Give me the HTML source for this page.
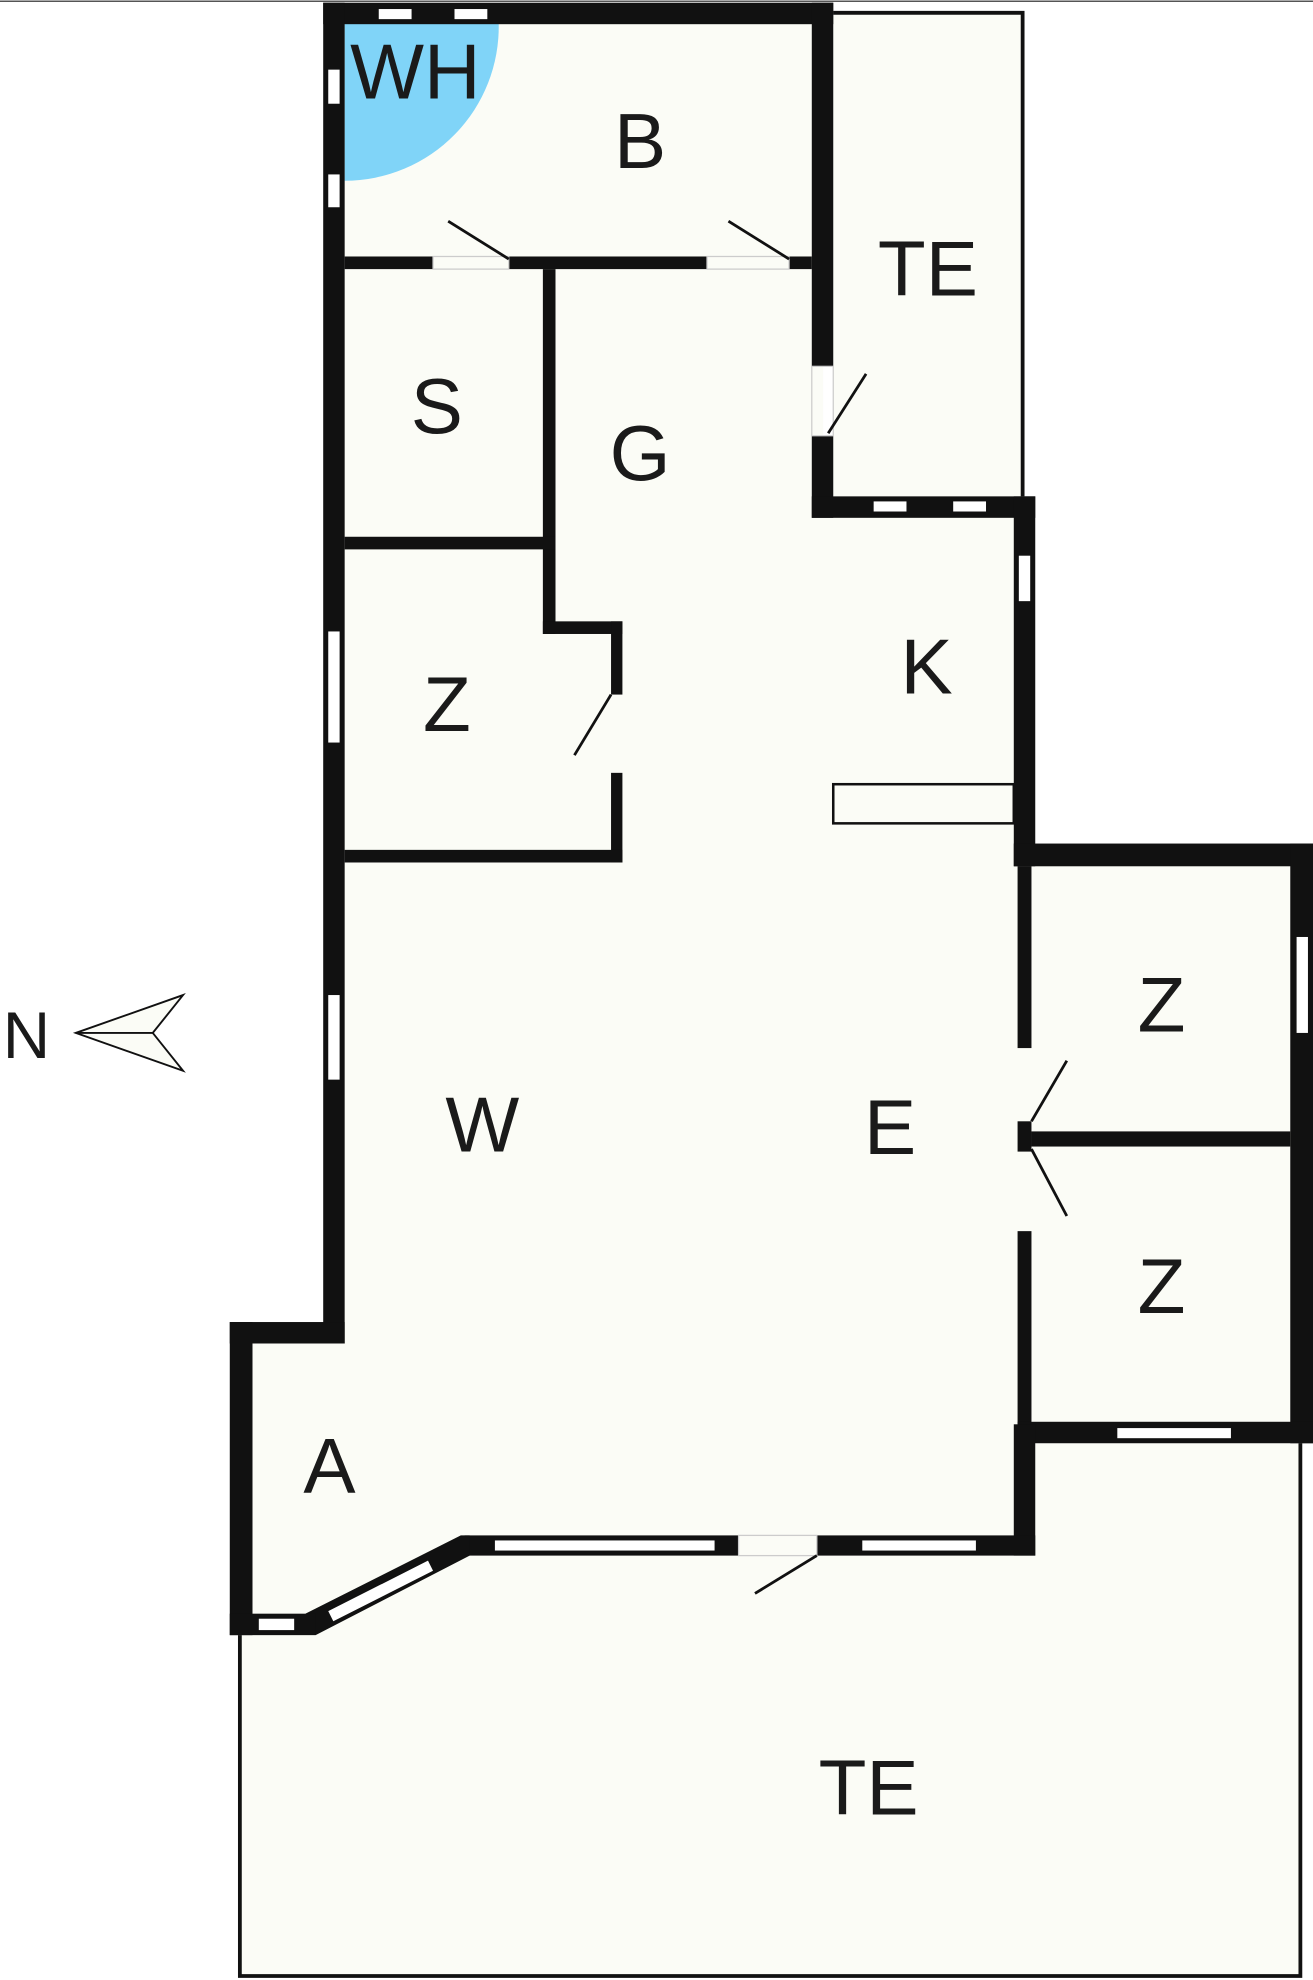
<!DOCTYPE html>
<html><head><meta charset="utf-8"><style>
html,body{margin:0;padding:0;background:#fff;}
svg{display:block;}
text{font-family:"Liberation Sans",sans-serif;font-size:62px;fill:#1a1a1a;text-anchor:middle;}
</style></head><body>
<svg width="1313" height="1980" viewBox="0 0 1040 1568" xmlns="http://www.w3.org/2000/svg">
<rect width="1040" height="1568" fill="#fff"/>
<line x1="0" y1="0.8" x2="1040" y2="0.8" stroke="#555" stroke-width="1.2"/>
<g fill="#fbfcf6">
<polygon points="265,10 652,10 652,402 812,402 812,677 1031,677 1031,1135 812,1135 812,1224 370,1224 248,1287 191,1287 191,1055 265,1055"/>
<rect x="660" y="10" width="150" height="383"/>
<rect x="190" y="1143" width="840" height="422"/>
</g>
<path d="M273,18 L395,18 A122,122 0 0 1 273,143 Z" fill="#80d4f8"/>
<g fill="none" stroke="#111" stroke-width="3">
<polyline points="660,10 810,10 810,393"/>
<polyline points="190,1295 190,1565 1030,1565 1030,1143"/>
<rect x="660" y="621" width="143" height="31" stroke-width="2"/>
</g>
<g fill="#111">
<rect x="256" y="2" width="404" height="17"/>
<rect x="256" y="2" width="17" height="1062"/>
<rect x="643" y="2" width="17" height="288"/>
<rect x="643" y="345" width="17" height="65"/>
<rect x="643" y="393" width="177" height="17"/>
<rect x="803" y="393" width="17" height="293"/>
<rect x="803" y="668" width="237" height="18"/>
<rect x="1022" y="668" width="18" height="475"/>
<rect x="806" y="686" width="11" height="144"/>
<rect x="806" y="888" width="11" height="24"/>
<rect x="806" y="975" width="11" height="153"/>
<rect x="817" y="896" width="205" height="12"/>
<rect x="806" y="1126" width="234" height="17"/>
<rect x="803" y="1128" width="17" height="104"/>
<rect x="368" y="1216" width="217" height="16"/>
<rect x="647" y="1216" width="173" height="16"/>
<polygon points="242,1278 365,1216 372,1216 372,1232 250,1295"/>
<rect x="182" y="1047" width="91" height="17"/>
<rect x="182" y="1047" width="18" height="248"/>
<rect x="182" y="1278" width="68" height="17"/>
<rect x="273" y="203" width="70" height="10"/>
<rect x="403" y="203" width="157" height="10"/>
<rect x="625" y="203" width="18" height="10"/>
<rect x="430" y="213" width="10" height="289"/>
<rect x="273" y="425" width="167" height="10"/>
<rect x="430" y="492" width="63" height="10"/>
<rect x="484" y="492" width="9" height="58"/>
<rect x="484" y="612" width="9" height="71"/>
<rect x="273" y="673" width="220" height="10"/>
</g>
<g fill="#fff">
<rect x="300" y="7" width="26" height="8"/>
<rect x="360" y="7" width="26" height="8"/>
<rect x="260" y="55" width="9" height="27"/>
<rect x="260" y="138" width="9" height="26"/>
<rect x="260" y="500" width="9" height="88"/>
<rect x="260" y="788" width="9" height="67"/>
<rect x="692" y="397" width="26" height="8"/>
<rect x="755" y="397" width="26" height="8"/>
<rect x="807" y="440" width="9" height="36"/>
<rect x="1027" y="742" width="9" height="76"/>
<rect x="885" y="1131" width="90" height="8"/>
<rect x="392" y="1220" width="174" height="8"/>
<rect x="683" y="1220" width="90" height="8"/>
<rect x="205" y="1282" width="28" height="9"/>
<polygon points="260,1276 339,1236 343,1244 264,1284"/>
</g>
<g stroke="#ccc" stroke-width="1" fill="none">
<rect x="585" y="1216" width="62" height="16"/>
<rect x="343" y="203" width="60" height="10"/>
<rect x="560" y="203" width="65" height="10"/>
<rect x="643" y="290" width="17" height="55"/>
</g>
<g stroke="#111" stroke-width="2.2">
<line x1="355" y1="175" x2="403" y2="205"/>
<line x1="577" y1="175" x2="625" y2="205"/>
<line x1="656" y1="343" x2="686" y2="296"/>
<line x1="455" y1="598" x2="484" y2="550"/>
<line x1="817" y1="888" x2="845" y2="840"/>
<line x1="817" y1="910" x2="845" y2="963"/>
<line x1="598" y1="1262" x2="647" y2="1232"/>
</g>
<polygon points="60,818 145,788 121,818 145,848" fill="#fbfcf6" stroke="#111" stroke-width="1.5"/>
<line x1="60" y1="818" x2="121" y2="818" stroke="#111" stroke-width="1.5"/>
<text x="21" y="838" style="font-size:52px">N</text>
<text x="329" y="78">WH</text>
<text x="507" y="133">B</text>
<text x="735" y="234">TE</text>
<text x="346" y="343">S</text>
<text x="507" y="380">G</text>
<text x="734" y="549">K</text>
<text x="354" y="579">Z</text>
<text x="920" y="817">Z</text>
<text x="382" y="912">W</text>
<text x="705" y="914">E</text>
<text x="920" y="1040">Z</text>
<text x="261" y="1182">A</text>
<text x="688" y="1437">TE</text>
</svg>
</body></html>
